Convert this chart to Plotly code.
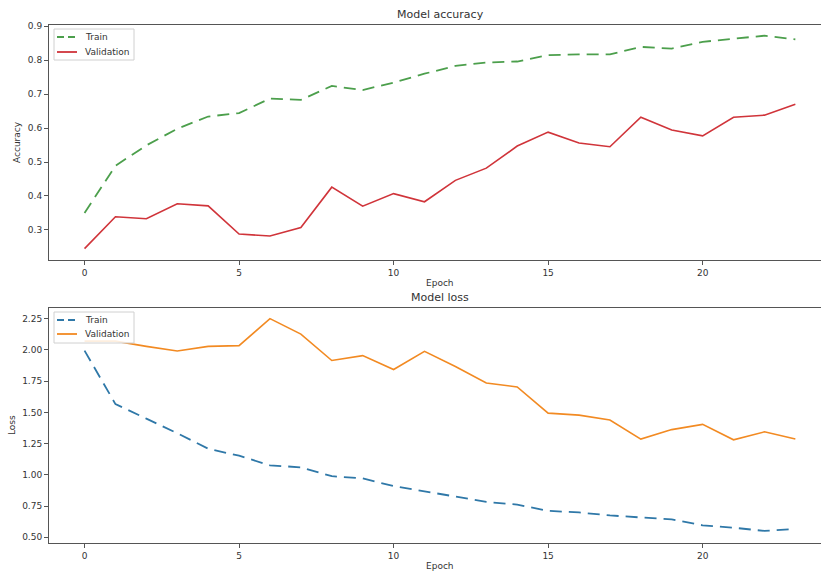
import plotly.graph_objects as go

epochs = list(range(24))

acc_train = [0.350, 0.489, 0.549, 0.598, 0.634, 0.644, 0.687, 0.683, 0.724, 0.712,
             0.734, 0.760, 0.783, 0.793, 0.796, 0.815, 0.817, 0.817, 0.839, 0.834,
             0.854, 0.864, 0.872, 0.861]
acc_val = [0.245, 0.339, 0.333, 0.377, 0.371, 0.288, 0.282, 0.307, 0.426, 0.370,
           0.407, 0.383, 0.446, 0.482, 0.547, 0.588, 0.556, 0.545, 0.632, 0.594,
           0.577, 0.632, 0.638, 0.670]

loss_train = [1.994, 1.566, 1.450, 1.333, 1.209, 1.153, 1.076, 1.060, 0.989, 0.971,
              0.910, 0.865, 0.826, 0.783, 0.762, 0.712, 0.699, 0.675, 0.659, 0.643,
              0.596, 0.577, 0.551, 0.566]
loss_val = [2.070, 2.070, 2.028, 1.991, 2.028, 2.034, 2.250, 2.126, 1.915, 1.954,
            1.843, 1.988, 1.867, 1.735, 1.703, 1.494, 1.478, 1.439, 1.286, 1.362,
            1.404, 1.280, 1.344, 1.286]

x_ticks = [0, 5, 10, 15, 20]
acc_ticks = [0.3, 0.4, 0.5, 0.6, 0.7, 0.8, 0.9]
loss_ticks = [0.50, 0.75, 1.00, 1.25, 1.50, 1.75, 2.00, 2.25]

W, H = 821, 574
L = 49
FONT = "DejaVu Sans"
TXT = "#333333"
AX = "#555555"

C_ACC_TR = "#4c9f4c"
C_ACC_VA = "#d0343a"
C_LOSS_TR = "#2f78a8"
C_LOSS_VA = "#f28a22"
DASH = "12px,7px"

fig = go.Figure()
fig.add_trace(go.Scatter(x=epochs, y=acc_train, mode="lines", name="Train",
                         line=dict(color=C_ACC_TR, width=1.8, dash=DASH),
                         xaxis="x", yaxis="y"))
fig.add_trace(go.Scatter(x=epochs, y=acc_val, mode="lines", name="Validation",
                         line=dict(color=C_ACC_VA, width=1.6),
                         xaxis="x", yaxis="y"))
fig.add_trace(go.Scatter(x=epochs, y=loss_train, mode="lines", name="Train",
                         line=dict(color=C_LOSS_TR, width=1.8, dash=DASH),
                         xaxis="x2", yaxis="y2"))
fig.add_trace(go.Scatter(x=epochs, y=loss_val, mode="lines", name="Validation",
                         line=dict(color=C_LOSS_VA, width=1.6),
                         xaxis="x2", yaxis="y2"))


def py(p):
    return 1 - p / H


def pxp(p):
    return (p - L) / (W - L)


xcommon = dict(range=[-1.15, 23.83], tickvals=x_ticks, ticks="outside", ticklen=4,
               tickcolor=AX, showline=True, linecolor=AX, linewidth=1, mirror=True,
               showgrid=False, zeroline=False, automargin=False,
               tickfont=dict(family=FONT, size=9, color=TXT))
ycommon = dict(ticks="outside", ticklen=4, tickcolor=AX, showline=True, linecolor=AX,
               linewidth=1, mirror=False, showgrid=False, zeroline=False,
               automargin=False, tickfont=dict(family=FONT, size=9, color=TXT))

fig.update_layout(
    width=W, height=H,
    margin=dict(l=L, r=0, t=0, b=0, autoexpand=False),
    paper_bgcolor="white", plot_bgcolor="white",
    font=dict(family=FONT, size=9, color=TXT),
    showlegend=False,
    xaxis=dict(domain=[0, 1], anchor="y", **xcommon),
    yaxis=dict(domain=[py(260), py(25)], anchor="x", range=[0.2115, 0.9035],
               tickvals=acc_ticks, tickformat=".1f", **ycommon),
    xaxis2=dict(domain=[0, 1], anchor="y2", **xcommon),
    yaxis2=dict(domain=[py(543), py(308)], anchor="x2", range=[0.4545, 2.335],
                tickvals=loss_ticks, tickformat=".2f", **ycommon),
)

annotations = [
    dict(text="Model accuracy", x=pxp(440), y=py(14), size=11),
    dict(text="Model loss", x=pxp(440), y=py(297), size=11),
    dict(text="Epoch", x=pxp(440), y=py(283), size=9),
    dict(text="Epoch", x=pxp(440), y=py(566), size=9),
]
for a in annotations:
    fig.add_annotation(text=a["text"], x=a["x"], y=a["y"], xref="paper", yref="paper",
                       xanchor="center", yanchor="middle", showarrow=False,
                       font=dict(family=FONT, size=a["size"], color=TXT))

fig.add_annotation(text="Accuracy", x=pxp(17), y=py(142), xref="paper", yref="paper",
                   xanchor="center", yanchor="middle", showarrow=False, textangle=-90,
                   font=dict(family=FONT, size=9, color=TXT))
fig.add_annotation(text="Loss", x=pxp(12), y=py(425), xref="paper", yref="paper",
                   xanchor="center", yanchor="middle", showarrow=False, textangle=-90,
                   font=dict(family=FONT, size=9, color=TXT))

# legends (matplotlib-style boxes in the upper-left corner of each panel)
legends = [
    dict(top=29, bottom=60, rows=[(37, "Train", C_ACC_TR, "dash"),
                                  (52, "Validation", C_ACC_VA, "solid")]),
    dict(top=312, bottom=343, rows=[(320, "Train", C_LOSS_TR, "dash"),
                                    (334, "Validation", C_LOSS_VA, "solid")]),
]
for lg in legends:
    fig.add_shape(type="rect", xref="paper", yref="paper",
                  x0=pxp(54), x1=pxp(134), y0=py(lg["bottom"]), y1=py(lg["top"]),
                  line=dict(color="#d0d0d0", width=1),
                  fillcolor="rgba(255,255,255,0.85)", layer="above")
    for ry, label, color, dash in lg["rows"]:
        fig.add_shape(type="line", xref="paper", yref="paper",
                      x0=pxp(57), x1=pxp(77), y0=py(ry), y1=py(ry),
                      line=dict(color=color, width=1.8,
                                dash="7px,4px" if dash == "dash" else "solid"),
                      layer="above")
        fig.add_annotation(text=label, x=pxp(83), y=py(ry), xref="paper", yref="paper",
                           xanchor="left", yanchor="middle", showarrow=False,
                           font=dict(family=FONT, size=9, color=TXT))

fig.write_html("out.html", config={"displayModeBar": False},
               post_script="document.body.style.margin='0';")
